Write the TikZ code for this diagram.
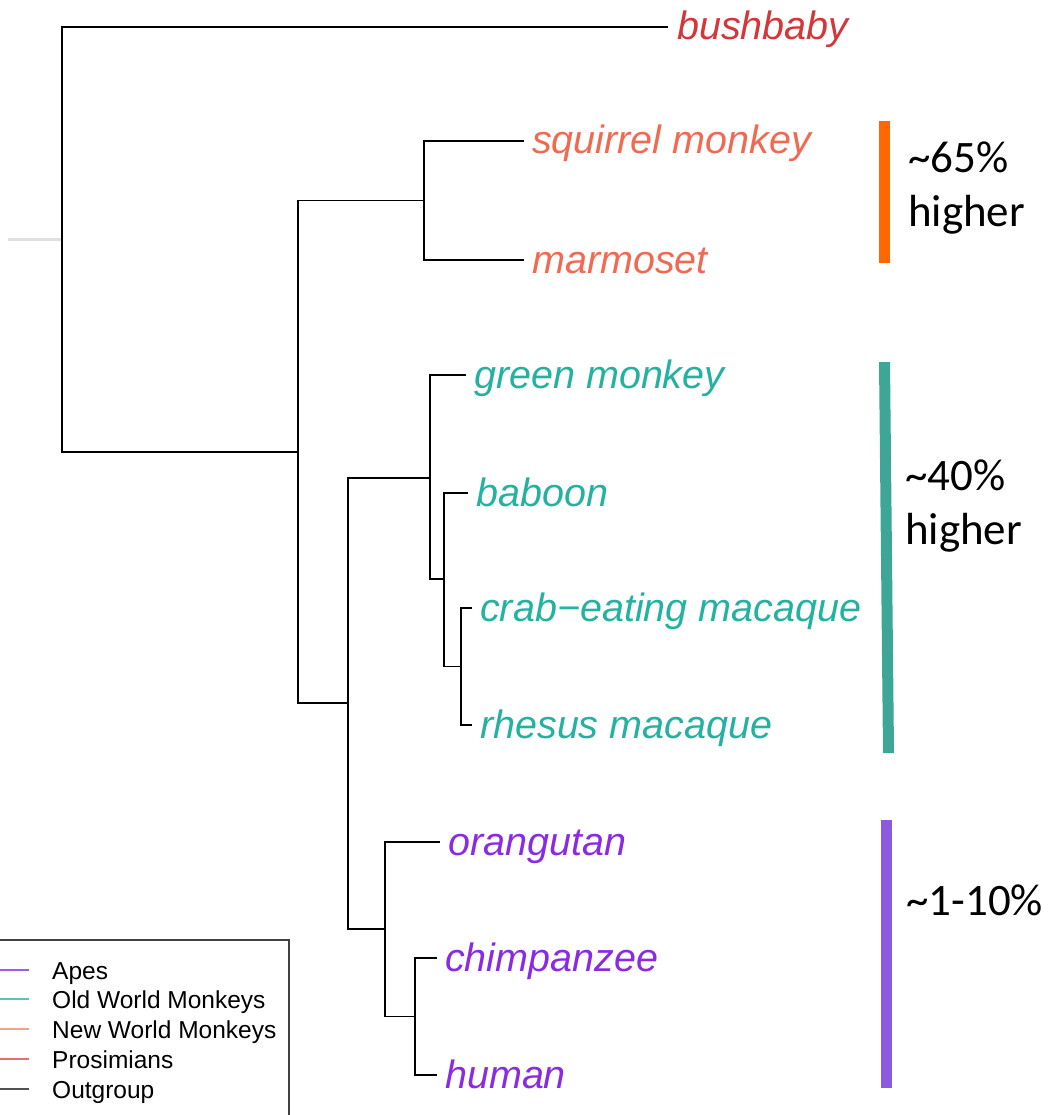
\documentclass[tikz,border=0pt]{standalone}
\usepackage{fontspec}
\setmainfont{Liberation Sans}
\newfontfamily\calfont{Carlito}
\definecolor{prosim}{RGB}{210,55,58}
\definecolor{nwm}{RGB}{240,106,82}
\definecolor{owm}{RGB}{36,178,160}
\definecolor{apes}{RGB}{138,43,226}
\definecolor{legApes}{RGB}{160,90,240}
\definecolor{legOwm}{RGB}{90,196,184}
\definecolor{legNwm}{RGB}{246,160,140}
\definecolor{legPro}{RGB}{230,110,110}
\definecolor{legOut}{RGB}{80,80,80}
\definecolor{barOrange}{RGB}{255,104,0}
\definecolor{barTeal}{RGB}{62,166,150}
\definecolor{barPurple}{RGB}{140,90,222}
\begin{document}
\begin{tikzpicture}[x=1pt,y=-1pt,
  branch/.style={line width=1.8pt,black,line join=miter},
  taxon/.style={anchor=base west,inner sep=0pt,font=\fontsize{39.5}{44}\selectfont\itshape},
  note/.style={anchor=base west,inner sep=0pt,font=\calfont\fontsize{45}{54}\selectfont},
  legtext/.style={anchor=base west,inner sep=0pt,font=\fontsize{24.5}{28}\selectfont},
  legline/.style={line width=1.6pt}]
\useasboundingbox (0,0) rectangle (1051,1115);
\clip (0,0) rectangle (1051,1115);

% internal nodes of the tree
\coordinate (root) at (62,239.5);
\coordinate (stub) at (8,239.5);
\coordinate (n1) at (298,452);
\coordinate (n2) at (424,200.5);
\coordinate (n3) at (348,703);
\coordinate (owmn) at (430,478);
\coordinate (n5) at (444,579);
\coordinate (n6) at (461,666.5);
\coordinate (apn) at (385,929);
\coordinate (n8) at (415,1016.5);

% tips
\coordinate (tBush) at (668,27);
\coordinate (tSq) at (524,141);
\coordinate (tMar) at (524,260);
\coordinate (tGreen) at (466,375);
\coordinate (tBab) at (468,493);
\coordinate (tCrab) at (472,608);
\coordinate (tRh) at (472,725);
\coordinate (tOr) at (440,842);
\coordinate (tCh) at (437,958);
\coordinate (tHu) at (437,1075);

% root stub
\draw[line width=2pt,black!12] (stub) -- (root);

% branches
\draw[branch] (root) |- (tBush);
\draw[branch] (root) |- (n1);
\draw[branch] (n1) |- (n2);
\draw[branch] (n1) |- (n3);
\draw[branch] (n2) |- (tSq);
\draw[branch] (n2) |- (tMar);
\draw[branch] (n3) |- (owmn);
\draw[branch] (n3) |- (apn);
\draw[branch] (owmn) |- (tGreen);
\draw[branch] (owmn) |- (n5);
\draw[branch] (n5) |- (tBab);
\draw[branch] (n5) |- (n6);
\draw[branch] (n6) |- (tCrab);
\draw[branch] (n6) |- (tRh);
\draw[branch] (apn) |- (tOr);
\draw[branch] (apn) |- (n8);
\draw[branch] (n8) |- (tCh);
\draw[branch] (n8) |- (tHu);

% tip labels
\node[taxon,text=prosim] (lBush) at (677,40) {bushbaby};
\node[taxon,text=nwm] (lSq) at (532,154) {squirrel monkey};
\node[taxon,text=nwm] (lMar) at (532,273) {marmoset};
\node[taxon,text=owm] (lGreen) at (474,388) {green monkey};
\node[taxon,text=owm] (lBab) at (476,506) {baboon};
\node[taxon,text=owm] (lCrab) at (480,621) {crab−eating macaque};
\node[taxon,text=owm] (lRh) at (480,738) {rhesus macaque};
\node[taxon,text=apes] (lOr) at (448,855) {orangutan};
\node[taxon,text=apes] (lCh) at (445,971) {chimpanzee};
\node[taxon,text=apes] (lHu) at (445,1088) {human};

% clade bars
\fill[barOrange] (878.5,121) rectangle (889.5,263);
\fill[barTeal] (879,362) -- (890,362) -- (894,753) -- (883,753) -- cycle;
\fill[barPurple] (880.5,820) rectangle (891.5,1088);

% bar annotations
\node[note] (p65) at (908,173) {\char`\~65\%};
\node[note] (h65) at (908,227) {higher};
\node[note] (p40) at (905,490) {\char`\~40\%};
\node[note] (h40) at (905,544) {higher};
\node[note] (p1) at (906,915) {\char`\~1-10\%};

% legend
\draw[line width=1.3pt,black!75] (-10,940) rectangle (289,1130);
\coordinate (la1) at (0,970);  \coordinate (lb1) at (29,970);
\coordinate (la2) at (0,999);  \coordinate (lb2) at (29,999);
\coordinate (la3) at (0,1029); \coordinate (lb3) at (29,1029);
\coordinate (la4) at (0,1059); \coordinate (lb4) at (29,1059);
\coordinate (la5) at (0,1089); \coordinate (lb5) at (29,1089);
\draw[legline,legApes] (la1) -- (lb1);
\draw[legline,legOwm] (la2) -- (lb2);
\draw[legline,legNwm] (la3) -- (lb3);
\draw[legline,legPro] (la4) -- (lb4);
\draw[legline,legOut] (la5) -- (lb5);
\node[legtext] (g1) at (52,979) {Apes};
\node[legtext] (g2) at (52,1008) {Old World Monkeys};
\node[legtext] (g3) at (52,1038) {New World Monkeys};
\node[legtext] (g4) at (52,1068) {Prosimians};
\node[legtext] (g5) at (52,1098) {Outgroup};
\end{tikzpicture}
\end{document}
